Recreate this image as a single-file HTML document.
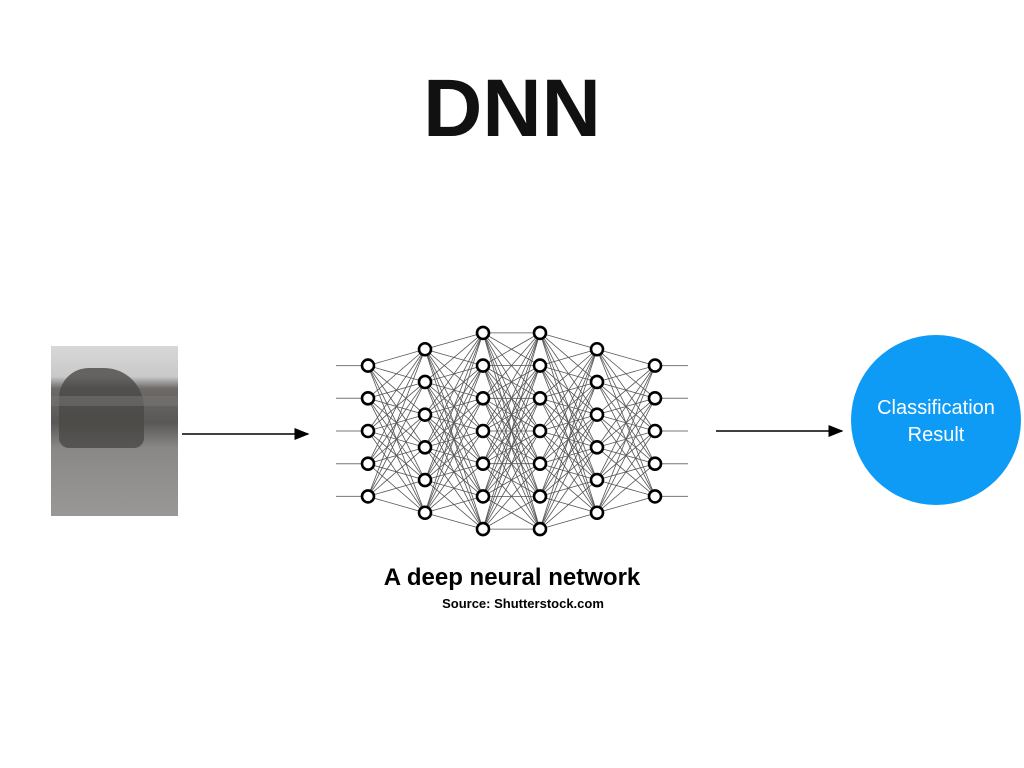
<!DOCTYPE html>
<html><head><meta charset="utf-8"><style>
body{margin:0;width:1024px;height:768px;background:#fff;position:relative;overflow:hidden;font-family:"Liberation Sans",sans-serif}
.t{position:absolute;left:0;width:1024px;text-align:center}
</style></head><body>
<div class="t" style="top:62px;font-size:82px;font-weight:bold;color:#111">DNN</div>
<div style="position:absolute;left:51px;top:346px;width:127px;height:170px;background:linear-gradient(180deg,#d8d8d8 0%,#c9c9c9 18%,#6d6a68 25%,#5a5856 45%,#8a8886 60%,#9a9896 100%)">
<div style="position:absolute;left:8px;top:22px;width:85px;height:80px;background:#4a4846;border-radius:30px 40px 10px 10px;opacity:.8"></div>
<div style="position:absolute;left:0;top:50px;width:127px;height:10px;background:#777;opacity:.5"></div>
</div>
<svg width="1024" height="768" style="position:absolute;left:0;top:0">
<defs><marker id="a" markerWidth="10" markerHeight="8" refX="9" refY="4" orient="auto"><path d="M0,0 L10,4 L0,8z" fill="#000"/></marker></defs>
<line x1="182" y1="434" x2="308" y2="434" stroke="#000" stroke-width="1.5" marker-end="url(#a)"/>
<line x1="716" y1="431" x2="842" y2="431" stroke="#000" stroke-width="1.5" marker-end="url(#a)"/>
<circle cx="936" cy="420" r="85" fill="#0d9bf5"/>
<text x="936" y="414" font-size="20" fill="#fff" text-anchor="middle" font-family="Liberation Sans">Classification</text>
<text x="936" y="441" font-size="20" fill="#fff" text-anchor="middle" font-family="Liberation Sans">Result</text>
<g id="net"></g>
<text x="512" y="585" font-size="24" font-weight="bold" text-anchor="middle" font-family="Liberation Sans">A deep neural network</text>
<text x="523" y="608" font-size="13" font-weight="bold" text-anchor="middle" font-family="Liberation Sans">Source: Shutterstock.com</text>
</svg>
<script>
(function(){
var xs=[368,425,483,540,597,655],cnt=[5,6,7,7,6,5],L=[];
for(var i=0;i<6;i++){var n=cnt[i],ys=[],y0=431-(n-1)*32.7/2;for(var j=0;j<n;j++)ys.push(y0+j*32.7);L.push(ys);}
var s='';
for(var i=0;i<5;i++)for(var a=0;a<L[i].length;a++)for(var b=0;b<L[i+1].length;b++)s+='<line x1="'+xs[i]+'" y1="'+L[i][a]+'" x2="'+xs[i+1]+'" y2="'+L[i+1][b]+'" stroke="#555" stroke-width="0.8"/>';
L[0].forEach(function(y){s+='<line x1="336" y1="'+y+'" x2="368" y2="'+y+'" stroke="#777" stroke-width="1"/>'});
L[5].forEach(function(y){s+='<line x1="655" y1="'+y+'" x2="688" y2="'+y+'" stroke="#777" stroke-width="1"/>'});
for(var i=0;i<6;i++)L[i].forEach(function(y){s+='<circle cx="'+xs[i]+'" cy="'+y+'" r="6" fill="#fff" stroke="#000" stroke-width="2.6"/>'});
document.getElementById('net').innerHTML=s;
})();
</script>
</body></html>
